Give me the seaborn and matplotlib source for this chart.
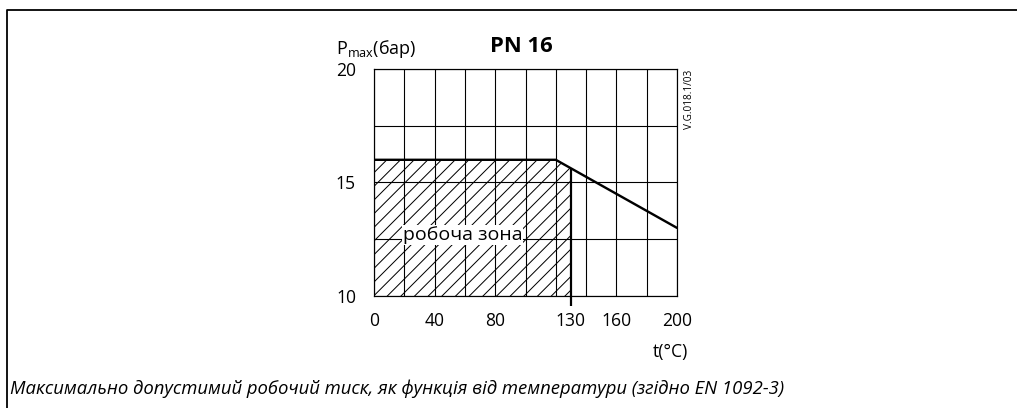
# PN 16 - máxima pressão de trabalho em função da temperatura
import numpy as np
import matplotlib
matplotlib.use("Agg")
import matplotlib.pyplot as plt
import seaborn as sns
from matplotlib.lines import Line2D

# ===== DADOS =====
temp_c = [0, 120, 200]
p_max_bar = [16, 16, 13]
work_limit_c = 130
x_tick_values = [0, 40, 80, 130, 160, 200]
y_tick_values = [10, 15, 20]

title = "PN 16"
y_label = "P$_{max}$(бар)"
x_label = "t(°C)"
zone_label = "робоча зона"
code_label = "V.G.018.1/03"
caption = "Максимально допустимий робочий тиск, як функція від температури (згідно EN 1092-3)"

# ===== CONFIGURAÇÃO =====
DPI = 82
W, H = 1017, 408


def pt(px):
    # pixels -> points para este dpi
    return px * 72 / DPI


sns.set_style("white")
plt.rcParams["font.family"] = ["Open Sans", "DejaVu Sans"]
plt.rcParams["mathtext.default"] = "regular"
plt.rcParams["hatch.linewidth"] = pt(1.0)
plt.rcParams["text.color"] = "black"

fig = plt.figure(figsize=(W / DPI, H / DPI), dpi=DPI)
ax = fig.add_axes([374 / W, 1 - 296 / H, 303 / W, 227 / H])

# grade
ax.set_xlim(0, 200)
ax.set_ylim(10, 20)
ax.xaxis.remove_overlapping_locs = False
ax.yaxis.remove_overlapping_locs = False
ax.set_xticks(np.arange(0, 201, 20), minor=True)
ax.set_yticks(np.arange(10, 20.1, 2.5), minor=True)
ax.set_xticks(x_tick_values)
ax.set_yticks(y_tick_values)
ax.grid(False, which="major")
ax.grid(True, which="minor", color="black", lw=pt(1.1))
ax.tick_params(which="both", length=0, labelsize=pt(17.5), colors="black")
ax.tick_params(axis="x", pad=pt(16))
ax.tick_params(axis="y", pad=pt(18))
for s in ax.spines.values():
    s.set_color("black")
    s.set_linewidth(pt(1.2))

# zona de trabalho hachurada
x_work = [t for t in temp_c if t < work_limit_c] + [work_limit_c]
p_work = list(np.interp(x_work, temp_c, p_max_bar))
ax.fill_between(x_work, 10, p_work, facecolor="none", edgecolor="black",
                hatch="//", linewidth=0, zorder=2)
ax.vlines(work_limit_c, 9.55, p_work[-1], color="black", lw=pt(2.2),
          clip_on=False, zorder=4)

# curva
sns.lineplot(x=temp_c, y=p_max_bar, color="black", lw=pt(2.4), ax=ax, zorder=5)

ax.text(19, 12.67, zone_label, fontsize=pt(19.5), ha="left", va="center",
        bbox=dict(facecolor="white", edgecolor="none", pad=pt(1)), zorder=6)

# textos
fig.text(336 / W, 1 - 54 / H, y_label, fontsize=pt(18), ha="left", va="baseline")
fig.text(521 / W, 1 - 47 / H, title, fontsize=pt(22), weight="bold", ha="center", va="center")
fig.text(690 / W, 1 - 99 / H, code_label, fontsize=pt(10), rotation=90, ha="center", va="center")
fig.text(670 / W, 1 - 352 / H, x_label, fontsize=pt(17.5), ha="center", va="center")
fig.text(10 / W, 1 - 389 / H, caption, fontsize=pt(18.5), style="italic",
         ha="left", va="center")

# moldura (topo e esquerda)
fig.add_artist(Line2D([7 / W, 7 / W, 1], [0, 1 - 10 / H, 1 - 10 / H],
                      transform=fig.transFigure, color="black", lw=pt(1.8)))

fig.savefig("out.png", dpi=DPI)
